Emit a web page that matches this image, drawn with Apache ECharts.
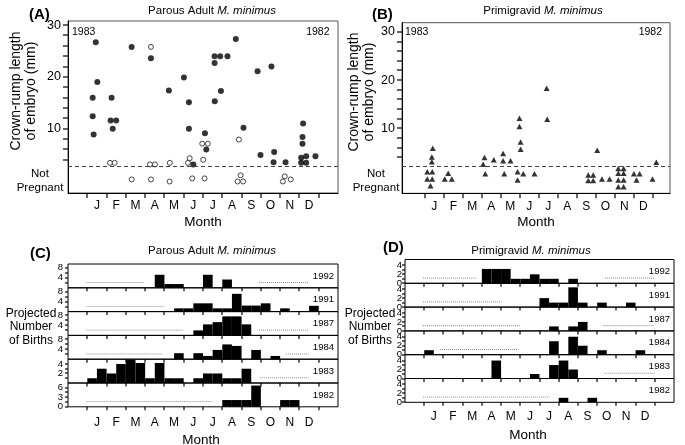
<!DOCTYPE html>
<html><head><meta charset="utf-8">
<script src="https://cdn.jsdelivr.net/npm/echarts@6/dist/echarts.min.js"></script>
<style>html,body{margin:0;padding:0;background:#fff}#c{width:685px;height:445px}</style>
</head><body><div id="c"></div>
<script>
// ---------- DATA ----------
const months = ['J','F','M','A','M','J','J','A','S','O','N','D'];
const years = ['1992','1991','1987','1984','1983','1982'];

// Panel A: [month position (0 = 1 Jan), crown-rump length (mm)]; below the dashed line = not pregnant
const parousPregnant = [
  [0.44,26.7],[0.52,19.0],[0.28,16.0],[0.28,12.4],[0.33,8.9],
  [1.26,16.0],[1.21,11.6],[1.50,11.6],[1.32,10.0],
  [2.30,25.8],[3.30,23.6],[4.23,17.4],
  [5.01,19.9],[5.27,15.1],[5.27,10.0],[5.50,3.1],
  [6.10,9.1],[6.17,6.0],
  [6.60,22.7],[6.60,24.0],[6.89,24.0],[7.27,24.0],[6.61,15.3],[6.93,17.3],
  [7.70,27.3],[8.10,10.2],
  [8.83,21.1],[8.98,4.9],
  [9.55,22.0],[9.69,5.5],[9.66,3.5],[10.28,3.5],
  [11.19,11.0],[11.16,8.4],[11.16,7.1],[11.09,4.4],[11.35,4.7],[11.83,4.7],[11.09,3.4],[11.35,3.4]
];
const parousNotPregnant = [
  [1.18,3.4],[1.42,3.4],[2.30,0.2],
  [3.30,25.8],[3.25,3.1],[3.51,3.1],[3.30,0.2],
  [4.28,3.4],[4.27,-0.2],
  [5.22,3.4],[5.31,4.3],[5.44,0.4],
  [6.01,4.0],[5.96,7.1],[6.25,7.1],[6.08,0.4],
  [7.86,7.9],[7.95,1.0],[7.79,-0.2],[8.08,-0.2],
  [10.24,0.8],[10.14,-0.2],[10.55,0.2]
];
// Panel B
const primigravidPoints = [
  [0.42,5.9],[0.37,4.1],[0.37,3.1],[0.13,1.0],[0.39,1.0],[0.13,-0.5],[0.39,-0.5],[0.30,-1.9],
  [1.05,-0.5],[1.42,-0.5],[1.23,0.7],
  [3.14,4.0],[3.07,2.6],[3.18,0.6],[3.63,3.5],
  [4.12,4.8],[4.12,3.3],[4.18,0.6],[4.51,3.3],
  [4.98,12.1],[4.98,10.4],[5.04,7.2],[5.04,5.7],[4.88,1.0],[4.88,-0.7],[5.18,0.6],
  [5.77,0.6],[6.41,18.3],[6.44,11.9],
  [8.60,0.35],[8.86,0.35],[8.60,-0.8],[8.86,-0.8],
  [9.07,5.5],[9.32,-0.5],[9.72,-0.5],
  [10.18,1.7],[10.46,1.7],[10.18,0.7],[10.46,0.7],[10.18,-0.7],[10.46,-0.7],[10.18,-2.1],[10.46,-2.1],
  [11.0,0.6],[11.3,0.6],[11.14,-0.7],[11.98,-0.5],[12.18,3.0]
];
const notPregnantLineA = 2.8;
const notPregnantLineB = 2.2;

// Panels C & D: [half-month bin start (months from 1 Jan), projected births]
const BIN = 0.5;
const parousBirths1992 = [[3.5,5.2],[4.0,1.5],[4.5,1.5],[6.0,5.2],[7.0,3.3]];
const parousBirths1991 = [[4.5,1.3],[5.0,1.3],[5.5,3.3],[6.0,3.3],[6.5,1.3],[7.0,1.3],[7.5,7.1],[8.0,2.4],[8.5,2.4],[9.0,3.3],[10.0,1.3],[11.5,2.3]];
const parousBirths1987 = [[5.5,2.0],[6.0,4.4],[6.5,5.3],[7.0,7.6],[7.5,7.6],[8.0,4.4]];
const parousBirths1984 = [[4.5,2.4],[5.5,2.4],[6.0,1.3],[6.5,3.7],[7.0,5.9],[7.5,5.3],[8.5,3.7],[9.5,1.3]];
const parousBirths1983 = [[0,1],[0.5,3],[1.0,2],[1.5,4],[2.0,4.9],[2.5,4.2],[3.0,1],[3.5,4.2],[4.0,1],[4.5,1],[5.5,1],[6.0,2],[6.5,2],[7.0,1],[7.5,1],[8.0,3]];
const parousBirths1982 = [[7.0,2.1],[7.5,2.1],[8.0,2.1],[8.5,6.6],[10.0,2.1],[10.5,2.1]];
const primiBirths1992 = [[3.0,3.2],[3.5,3.2],[4.0,3.2],[4.5,1],[5.0,1],[5.5,2],[6.0,1],[6.5,1],[7.5,1]];
const primiBirths1991 = [[6.0,2],[6.5,1],[7.0,1],[7.5,4.4],[8.0,1],[9.0,1],[10.5,1]];
const primiBirths1987 = [[6.5,1],[7.5,1],[8.0,2]];
const primiBirths1984 = [[0,1],[6.5,3],[7.5,4],[8.0,2],[9.0,1],[11.0,1]];
const primiBirths1983 = [[3.5,4],[5.5,1],[6.5,3],[7.0,4],[7.5,2]];
const primiBirths1982 = [[7.0,1],[8.5,1]];
// unsampled periods: [start, end] in months
const parousGaps1992 = [[-0.05,2.93],[8.9,11.47]];
const parousGaps1991 = [[-0.05,3.97]];
const parousGaps1987 = [[-0.05,4.97],[8.9,11.47]];
const parousGaps1984 = [[-0.05,3.9],[10.3,11.47]];
const parousGaps1983 = [[8.95,11.47]];
const parousGaps1982 = [[-0.05,6.47]];
const primiGaps1992 = [[-0.07,2.7],[9.41,12.0]];
const primiGaps1991 = [[-0.07,4.03]];
const primiGaps1987 = [[-0.07,5.03],[9.32,11.96]];
const primiGaps1984 = [[0.82,4.9]];
const primiGaps1983 = [[9.37,12.0]];
const primiGaps1982 = [[-0.07,6.51]];

// ---------- BUILD ----------
const FONT = '"Liberation Sans", Arial, sans-serif';
const monthTicks = [0,1,2,3,4,5,6,7,8,9,10,11,12];
const monthCenters = months.map((m,i)=>i+0.5);
const crlTicks = []; for (let v=4; v<=30; v+=2) crlTicks.push(v);

const grids=[], xAxes=[], yAxes=[], series=[], graphic=[];
const tickSpecs=[];
function txt(x,y,text,o){ graphic.push(Object.assign({type:'text',x:x,y:y,silent:true,
  style:Object.assign({text:text,fontFamily:FONT,fontSize:12,fill:'#000',textAlign:'center',textVerticalAlign:'middle'},o||{})})); }

function labelSeries(gi, vals, base, fontSize, gap){
  series.push({type:'custom',xAxisIndex:gi,yAxisIndex:gi,clip:false,silent:true,z:6,
    data:vals.map(v=>[base,v]),encode:{x:0,y:1},
    renderItem:(params,api)=>{
      const p = api.coord([api.value(0),api.value(1)]);
      return {type:'text',x:p[0]-gap,y:p[1],style:{text:String(api.value(1)),fill:'#000',fontFamily:FONT,fontSize:fontSize,
          align:'right',verticalAlign:'middle',textAlign:'right',textVerticalAlign:'middle'}};
    }});
}

function monthAxis(gi,min,max,showLabels,margin,line){
  return {type:'value',gridIndex:gi,min:min,max:max,
    axisLine:{show:line,onZero:false,lineStyle:{color:'#000',width:1}},
    axisTick:{show:false},
    axisLabel:{show:showLabels,customValues:monthCenters,formatter:v=>months[Math.floor(v)],
      margin:margin,fontSize:12,color:'#000',fontFamily:FONT,hideOverlap:false},
    splitLine:{show:false}};
}

// Panel A & B scatter grids
[{left:68,top:21,width:270,height:172,ymin:-2.42,ymax:30.8,xmin:-1,xmax:13,cut:notPregnantLineA},
 {left:402,top:22.7,width:268,height:170.6,ymin:-3.44,ymax:31.9,xmin:-1.2,xmax:12.9,cut:notPregnantLineB}]
.forEach((p,k)=>{
  const gi=grids.length;
  grids.push({left:p.left,top:p.top,width:p.width,height:p.height,show:true,borderColor:'#555',borderWidth:1});
  xAxes.push(monthAxis(gi,p.xmin,p.xmax,true,7,true));
  yAxes.push({type:'value',gridIndex:gi,min:p.ymin,max:p.ymax,
    axisLine:{show:true,onZero:false,lineStyle:{color:'#000'}},
    axisTick:{show:false},
    axisLabel:{customValues:[10,20,30],fontSize:12.5,color:'#000',fontFamily:FONT,margin:7,hideOverlap:false},
    splitLine:{show:false}});
  tickSpecs.push({gi:gi,vals:monthTicks,dir:'x',base:p.ymin,len:5});
  tickSpecs.push({gi:gi,vals:crlTicks,dir:'y',base:p.xmin,len:5});
  const ml={silent:true,symbol:'none',label:{show:false},animation:false,
    lineStyle:{type:[4,3],color:'#444',width:1},data:[{yAxis:p.cut}]};
  if(k===0){
    series.push({type:'scatter',xAxisIndex:gi,yAxisIndex:gi,data:parousNotPregnant,symbol:'circle',symbolSize:5,
      itemStyle:{color:'#fff',borderColor:'#000',borderWidth:0.9},markLine:ml});
    series.push({type:'scatter',xAxisIndex:gi,yAxisIndex:gi,data:parousPregnant,symbol:'circle',symbolSize:6,
      itemStyle:{color:'#000'}});
  } else {
    series.push({type:'scatter',xAxisIndex:gi,yAxisIndex:gi,data:primigravidPoints,symbol:'triangle',symbolSize:[6,5.5],
      itemStyle:{color:'#000'},markLine:ml});
  }
});

// Histogram rows
const ROW_H = 23.8;
const panels = [
  {left:68,width:270,top:264,bars:[parousBirths1992,parousBirths1991,parousBirths1987,parousBirths1984,parousBirths1983,parousBirths1982],
   gaps:[parousGaps1992,parousGaps1991,parousGaps1987,parousGaps1984,parousGaps1983,parousGaps1982],
   max:[9.5,9.5,9.5,9.5,5.0,7.4],
   labels:[[4,8],[4,8],[4,8],[4,8],[2,4],[0,3,6]],
   ticks:[[2,4,6,8],[2,4,6,8],[2,4,6,8],[2,4,6,8],[1,2,3,4],[0,1.5,3,4.5,6]],
   gap:5,labelMargin:10},
  {left:405,width:269,top:259.5,bars:[primiBirths1992,primiBirths1991,primiBirths1987,primiBirths1984,primiBirths1983,primiBirths1982],
   gaps:[primiGaps1992,primiGaps1991,primiGaps1987,primiGaps1984,primiGaps1983,primiGaps1982],
   max:[5.3,5.3,5.3,5.3,5.3,5.3],
   labels:[[0,2,4],[0,2,4],[0,2,4],[0,2,4],[0,2,4],[0,2,4]],
   ticks:[[0,1,2,3,4],[0,1,2,3,4],[0,1,2,3,4],[0,1,2,3,4],[0,1,2,3,4],[0,1,2,3,4]],
   gap:3,labelMargin:8}
];
panels.forEach(P=>{
  years.forEach((yr,r)=>{
    const gi=grids.length;
    const top=P.top+r*ROW_H;
    grids.push({left:P.left,top:top,width:P.width,height:ROW_H,show:true,borderColor:'#000',borderWidth:1});
    xAxes.push(monthAxis(gi,-1,13,r===years.length-1,P.labelMargin,false));
    yAxes.push({type:'value',gridIndex:gi,min:0,max:P.max[r],
      axisLine:{show:false,onZero:false},axisTick:{show:false},axisLabel:{show:false},splitLine:{show:false}});
    tickSpecs.push({gi:gi,vals:monthTicks,dir:'x',base:0,len:3.5});
    tickSpecs.push({gi:gi,vals:P.ticks[r],dir:'y',base:-1,len:3});
    labelSeries(gi,P.labels[r],-1,9.5,P.gap);
    const lvl=P.max[r]*0.22;
    series.push({type:'custom',xAxisIndex:gi,yAxisIndex:gi,data:P.gaps[r],encode:{x:[0,1]},
      renderItem:(params,api)=>{
        const a=api.coord([api.value(0),lvl]), b=api.coord([api.value(1),lvl]);
        return {type:'line',shape:{x1:a[0],y1:a[1],x2:b[0],y2:b[1]},style:{stroke:'#8a8a8a',lineWidth:1,lineDash:[1,1]}};
      }});
    series.push({type:'custom',xAxisIndex:gi,yAxisIndex:gi,data:P.bars[r],encode:{x:0,y:1},
      renderItem:(params,api)=>{
        const s=api.value(0), v=api.value(1);
        const p0=api.coord([s,v]), p1=api.coord([s+BIN,0]);
        return {type:'rect',shape:{x:p0[0],y:p0[1],width:p1[0]-p0[0],height:p1[1]-p0[1]},style:{fill:'#000'}};
      }});
    txt(P.left+P.width-4, top+ROW_H/2, yr, {fontSize:9.5,textAlign:'right'});
  });
});

// ---------- TEXT ----------
const titleRich = {n:{fontFamily:FONT,fontSize:11.5,fill:'#000'},i:{fontFamily:FONT,fontSize:11.5,fontStyle:'italic',fill:'#000'}};
function title(x,y,a,b){ graphic.push({type:'text',x:x,y:y,silent:true,style:{text:'{n|'+a+' }{i|'+b+'}',rich:titleRich,textAlign:'center',textVerticalAlign:'middle'}}); }
txt(29,15,'(A)',{fontSize:15,fontWeight:'bold',textAlign:'left'});
txt(372,15,'(B)',{fontSize:15,fontWeight:'bold',textAlign:'left'});
txt(30,254,'(C)',{fontSize:15,fontWeight:'bold',textAlign:'left'});
txt(383,248,'(D)',{fontSize:15,fontWeight:'bold',textAlign:'left'});
title(212,11,'Parous Adult','M. minimus');
title(543,11,'Primigravid','M. minimus');
title(212,251,'Parous Adult','M. minimus');
title(531,251,'Primigravid','M. minimus');
txt(72,32.5,'1983',{fontSize:10.5,textAlign:'left'});
txt(329.5,32.5,'1982',{fontSize:10.5,textAlign:'right'});
txt(405,32.5,'1983',{fontSize:10.5,textAlign:'left'});
txt(662,32.5,'1982',{fontSize:10.5,textAlign:'right'});
graphic.push({type:'text',x:24,y:91,rotation:Math.PI/2,silent:true,style:{text:'Crown-rump length\nof embryo (mm)',fontFamily:FONT,fontSize:14,lineHeight:15,fill:'#000',textAlign:'center',textVerticalAlign:'middle'}});
graphic.push({type:'text',x:362,y:92,rotation:Math.PI/2,silent:true,style:{text:'Crown-rump length\nof embryo (mm)',fontFamily:FONT,fontSize:14,lineHeight:15,fill:'#000',textAlign:'center',textVerticalAlign:'middle'}});
txt(40,181,'Not\nPregnant',{fontSize:11.5,lineHeight:14});
txt(376,181,'Not\nPregnant',{fontSize:11.5,lineHeight:14});
txt(203,222,'Month',{fontSize:13.5});
txt(536,222,'Month',{fontSize:13.5});
txt(201,440,'Month',{fontSize:13.5});
txt(528,435,'Month',{fontSize:13.5});
txt(31,327,'Projected\nNumber\nof Births',{fontSize:12,lineHeight:13.7});
txt(370,327,'Projected\nNumber\nof Births',{fontSize:12,lineHeight:13.7});

const chart = echarts.init(document.getElementById('c'));
chart.setOption({animation:false,backgroundColor:'#fff',grid:grids,xAxis:xAxes,yAxis:yAxes,series:series,graphic:graphic});

// tick marks positioned through the library's own scales (convertToPixel)
const tickEls=[];
tickSpecs.forEach(t=>{
  t.vals.forEach(v=>{
    const p = chart.convertToPixel({gridIndex:t.gi}, t.dir==='x'?[v,t.base]:[t.base,v]);
    if(!p) return;
    const shape = t.dir==='x'
      ? {x:Math.round(p[0])-0.6,y:p[1],width:1.2,height:t.len}
      : {x:p[0]-t.len,y:Math.round(p[1])-0.6,width:t.len,height:1.2};
    tickEls.push({type:'rect',silent:true,z:50,shape:shape,style:{fill:'#000'}});
  });
});
chart.setOption({graphic:graphic.concat(tickEls)});
</script></body></html>
